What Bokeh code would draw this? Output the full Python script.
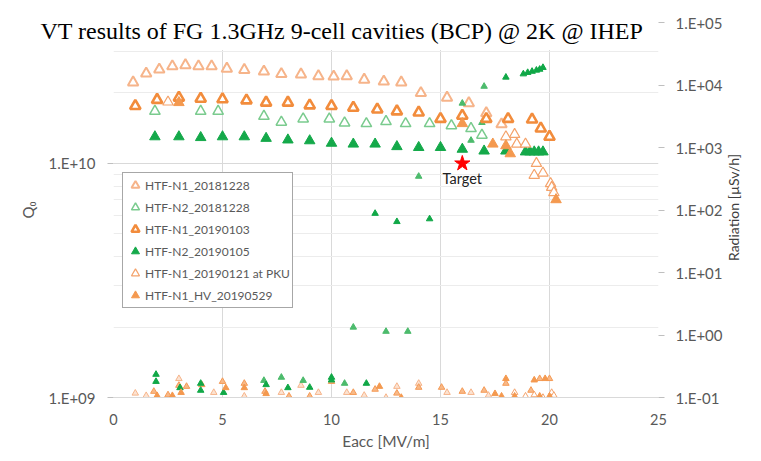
from bokeh.plotting import figure
from bokeh.models import (Range1d, LogScale, LogAxis, FixedTicker, CustomJSTickFormatter,
                          Legend, LegendItem, Label, BoxAnnotation, Title)
from bokeh.embed import file_html
from bokeh.resources import INLINE

# ---------------- data ----------------
names = ["HTF-N1_20181228", "HTF-N2_20181228", "HTF-N1_20190103",
         "HTF-N2_20190105", "HTF-N1_20190121 at PKU", "HTF-N1_HV_20190529"]

x_ticks = [0, 5, 10, 15, 20, 25]
q_ticks = [1e9, 1e10]
q_minor = [2e9, 3e9, 4e9, 5e9, 6e9, 7e9, 8e9, 9e9, 2e10, 3e10]
rad_ticks = [1e-1, 1e0, 1e1, 1e2, 1e3, 1e4, 1e5]

s1_eacc = [0.9, 1.5, 2.1, 2.7, 3.3, 3.9, 4.5, 5.2, 6.0, 6.9, 7.7, 8.6, 9.4, 10.1, 10.7, 11.5,
           12.4, 13.2, 14.1, 15.3, 16.3, 17.1, 17.8]
s1_q0 = [2.22e10, 2.42e10, 2.52e10, 2.60e10, 2.63e10, 2.60e10, 2.60e10, 2.54e10, 2.51e10,
         2.47e10, 2.41e10, 2.40e10, 2.36e10, 2.35e10, 2.36e10, 2.28e10, 2.24e10, 2.22e10,
         2.00e10, 1.91e10, 1.81e10, 1.64e10, 1.47e10]
s1_rad_eacc = [1.0, 1.5, 3.0, 4.6, 6.0, 7.7, 8.6, 9.4, 10.7, 11.5, 12.5, 13.0, 14.0, 15.3, 16.4, 17.2]
s1_rad = [0.117, 0.107, 0.20, 0.12, 0.105, 0.12, 0.156, 0.12, 0.12, 0.108, 0.10, 0.15, 0.168,
          0.12, 0.12, 0.108]

s2_eacc = [1.9, 4.0, 4.8, 6.9, 7.7, 8.7, 9.9, 10.6, 11.6, 12.5, 13.4, 14.5, 15.5, 16.4, 16.9]
s2_q0 = [1.67e10, 1.67e10, 1.67e10, 1.59e10, 1.50e10, 1.55e10, 1.55e10, 1.49e10, 1.48e10,
         1.51e10, 1.48e10, 1.48e10, 1.45e10, 1.41e10, 1.32e10]
s2_rad_eacc = [6.9, 7.7, 8.7, 10.6, 11.0, 12.5, 13.5, 14.0, 16.0, 16.4, 16.9, 17.0]
s2_rad = [0.187, 0.21, 0.187, 0.168, 1.33, 1.14, 1.14, 345, 5100, 1300, 2500, 9500]

s3_eacc = [1.0, 2.0, 3.0, 4.0, 5.0, 6.1, 7.0, 8.0, 9.0, 10.0, 11.0, 12.1, 13.0, 14.0, 15.0,
           16.0, 17.1, 18.1, 19.2, 19.6, 20.0]
s3_q0 = [1.76e10, 1.87e10, 1.91e10, 1.89e10, 1.88e10, 1.86e10, 1.82e10, 1.82e10, 1.77e10,
         1.76e10, 1.73e10, 1.70e10, 1.67e10, 1.65e10, 1.55e10, 1.60e10, 1.55e10, 1.55e10,
         1.54e10, 1.41e10, 1.30e10]
s3_rad_eacc = [1.85, 2.5, 3.0, 3.35, 4.05, 5.0, 6.0, 6.95, 8.05, 9.0, 10.0, 11.0, 12.0, 13.0,
               14.0, 15.05, 16.0, 17.0, 18.0, 19.15, 19.55, 20.0]
s3_rad = [0.125, 0.11, 0.156, 0.15, 0.16, 0.18, 0.168, 0.125, 0.105, 0.105, 0.18, 0.12, 0.135,
          0.117, 0.145, 0.145, 0.125, 0.13, 0.168, 0.13, 0.2, 0.2]

s4_eacc = [1.9, 3.0, 4.0, 5.0, 6.0, 7.0, 8.0, 9.0, 10.0, 11.0, 12.0, 13.0, 14.0, 15.0, 16.0,
           17.0, 18.0, 18.9, 19.1, 19.3, 19.5, 19.7]
s4_q0 = [1.30e10, 1.30e10, 1.29e10, 1.30e10, 1.30e10, 1.28e10, 1.26e10, 1.25e10, 1.22e10,
         1.21e10, 1.21e10, 1.18e10, 1.17e10, 1.17e10, 1.15e10, 1.13e10, 1.13e10, 1.12e10,
         1.12e10, 1.12e10, 1.12e10, 1.12e10]
s4_rad_eacc = [1.95, 1.95, 3.05, 4.0, 4.0, 5.05, 7.0, 8.0, 9.0, 10.0, 10.0, 11.6, 12.0, 13.0,
               14.5, 18.0, 18.8, 19.0, 19.2, 19.4, 19.55, 19.7]
s4_rad = [0.234, 0.18, 0.143, 0.168, 0.13, 0.12, 0.16, 0.143, 0.145, 0.21, 0.19, 0.168, 88, 65,
          72, 13300, 15000, 15800, 16500, 17200, 17800, 19000]

s5_eacc = [2.5, 18.0, 18.4, 18.5, 18.9, 19.3, 19.4, 19.7, 20.05, 20.1, 20.2]
s5_q0 = [1.83e10, 1.30e10, 1.33e10, 1.21e10, 1.21e10, 0.89e10, 1.0e10, 0.91e10, 0.82e10,
         0.79e10, 0.75e10]
s5_rad_eacc = [18.4, 18.9, 19.3, 19.7, 20.1, 20.2]
s5_rad = [0.12, 0.105, 0.11, 0.10, 0.12, 0.108]

s6_eacc = [3.0, 16.0, 17.4, 18.0, 18.2, 20.3]
s6_q0 = [1.82e10, 1.48e10, 1.21e10, 1.19e10, 1.10e10, 0.70e10]
s6_rad_eacc = [2.0, 2.7, 3.1, 5.15, 6.0, 7.0, 12.2, 13.2, 17.5, 17.8, 18.0, 18.4, 19.3, 19.55,
               19.8, 20.0]
s6_rad = [0.107, 0.107, 0.12, 0.143, 0.143, 0.115, 0.15, 0.10, 0.115, 0.105, 0.2, 0.105, 0.19,
          0.105, 0.2, 0.105]

target_eacc = [16.0]
target_q0 = [1.0e10]

title_text = "VT results of FG 1.3GHz 9-cell cavities (BCP) @ 2K @ IHEP"
rad_label = "Radiation [\u00b5Sv/h]"

# ---------------- figure ----------------
GRAY = "#595959"
FONT = "Lato"

p = figure(width=761, height=461, x_range=Range1d(0, 25), y_range=Range1d(1e9, 4e10),
           y_axis_type="log", output_backend="svg", toolbar_location=None,
           min_border_left=113, min_border_right=103, min_border_top=22, min_border_bottom=64,
           background_fill_color="white", border_fill_color="white")
p.outline_line_color = None

p.extra_y_ranges = {"rad": Range1d(1e-1, 1e5)}
p.extra_y_scales = {"rad": LogScale()}

# x axis
p.xaxis.ticker = FixedTicker(ticks=x_ticks)
p.xaxis.axis_label = "Eacc [MV/m]"
p.xaxis.axis_line_color = "#d9d9d9"
p.xaxis.major_tick_line_color = None
p.xaxis.minor_tick_line_color = None
p.xaxis.major_label_standoff = 10
p.xaxis.axis_label_standoff = 4
p.xaxis.major_label_text_font = FONT
p.xaxis.major_label_text_font_size = "14.5px"
p.xaxis.major_label_text_color = GRAY
p.xaxis.axis_label_text_font = FONT
p.xaxis.axis_label_text_font_size = "15.5px"
p.xaxis.axis_label_text_font_style = "normal"
p.xaxis.axis_label_text_color = GRAY

fmt_code = """
const e = Math.round(Math.log10(tick));
const a = Math.abs(e);
return "1.E" + (e < 0 ? "-" : "+") + (a < 10 ? "0" : "") + a;
"""

# left axis
p.yaxis.ticker = FixedTicker(ticks=q_ticks, minor_ticks=q_minor)
p.yaxis.formatter = CustomJSTickFormatter(code=fmt_code)
p.yaxis.axis_label = "Q\u2080"
p.yaxis.axis_line_color = None
p.yaxis.major_tick_line_color = "#bfbfbf"
p.yaxis.major_tick_in = 0
p.yaxis.major_tick_out = 6
p.yaxis.minor_tick_line_color = None
p.yaxis.major_label_standoff = 12
p.yaxis.axis_label_standoff = 8
p.yaxis.major_label_text_font = FONT
p.yaxis.major_label_text_font_size = "15px"
p.yaxis.major_label_text_color = GRAY
p.yaxis.axis_label_text_font = FONT
p.yaxis.axis_label_text_font_size = "15px"
p.yaxis.axis_label_text_font_style = "normal"
p.yaxis.axis_label_text_color = GRAY

# right axis (title reads bottom-to-top, as in the original)
rax = LogAxis(y_range_name="rad", ticker=FixedTicker(ticks=rad_ticks),
              formatter=CustomJSTickFormatter(code=fmt_code))
rax.axis_line_color = None
rax.major_tick_line_color = "#bfbfbf"
rax.major_tick_in = 0
rax.major_tick_out = 6
rax.minor_tick_line_color = None
rax.major_label_standoff = 11
rax.axis_label_standoff = 8
rax.major_label_text_font = FONT
rax.major_label_text_font_size = "15px"
rax.major_label_text_color = GRAY
rax.axis_label_text_font = FONT
rax.axis_label_text_font_size = "14px"
rax.axis_label_text_font_style = "normal"
rax.axis_label_text_color = "#404040"
props = rax.properties()
if "axis_label_orientation" in props and "axis_label_align" in props:
    rax.axis_label_orientation = 1.5707963267948966
    rax.axis_label_align = "start"
    rax.axis_label = "\u2003" * 13 + rad_label
else:
    rax.axis_label = rad_label
p.add_layout(rax, "right")

# grids
p.xgrid.grid_line_color = "#d9d9d9"
p.ygrid.grid_line_color = "#d9d9d9"
p.ygrid.minor_grid_line_color = "#ececec"

# white band over the top of the plot area (behind the title), drawn above the grid
p.add_layout(BoxAnnotation(bottom=3.05e10, fill_color="white", fill_alpha=1.0,
                           line_color=None, level="underlay"))

# ---------------- series ----------------
styles = [
    dict(line_color="#F6B48A", fill_color="white", line_width=2.0),
    dict(line_color="#7ACB8E", fill_color="white", line_width=1.5),
    dict(line_color="#F28C3C", fill_color="white", line_width=2.6),
    dict(line_color="#14A94A", fill_color="#14A94A", line_width=1.0),
    dict(line_color="#F4A26A", fill_color="white", line_width=1.2),
    dict(line_color="#F4994F", fill_color="#F4994F", line_width=1.0),
]
rad_styles = [
    dict(line_color="#F6B48A", fill_color="#FCE3D2"),
    dict(line_color="#4CBB6C", fill_color="#4CBB6C"),
    dict(line_color="#F59A55", fill_color="#F8B988"),
    dict(line_color="#10A847", fill_color="#10A847"),
    dict(line_color="#F4A26A", fill_color="white"),
    dict(line_color="#F4994F", fill_color="#F4994F"),
]
q_data = [(s1_eacc, s1_q0), (s2_eacc, s2_q0), (s3_eacc, s3_q0),
          (s4_eacc, s4_q0), (s5_eacc, s5_q0), (s6_eacc, s6_q0)]
r_data = [(s1_rad_eacc, s1_rad), (s2_rad_eacc, s2_rad), (s3_rad_eacc, s3_rad),
          (s4_rad_eacc, s4_rad), (s5_rad_eacc, s5_rad), (s6_rad_eacc, s6_rad)]

q_renderers = []
for (xs, ys), (rx, ry), st, rst in zip(q_data, r_data, styles, rad_styles):
    p.scatter(rx, ry, marker="triangle", size=6.5, line_width=1.0, y_range_name="rad", **rst)
    r = p.scatter(xs, ys, marker="triangle", size=10.5, **st)
    q_renderers.append(r)

p.scatter(target_eacc, target_q0, marker="star", size=16, fill_color="#FF0000",
          line_color="#FF0000")
p.add_layout(Label(x=target_eacc[0], y=8.65e9, text="Target", text_font=FONT,
                   text_font_size="14.5px", text_color="#222222", text_align="center",
                   text_baseline="middle"))

legend = Legend(items=[LegendItem(label=n, renderers=[r]) for n, r in zip(names, q_renderers)],
                location=(9, 89), margin=0, padding=2, spacing=2,
                glyph_width=20, glyph_height=20, label_height=20, label_standoff=0,
                label_text_font=FONT, label_text_font_size="12px", label_text_color=GRAY,
                border_line_color="#505050", border_line_width=1.5,
                background_fill_color="white", background_fill_alpha=1.0)
p.add_layout(legend)

# title: lives in the "above" panel; an empty first line plus a negative standoff lets the
# visible line sit over the top of the plot area, as in the original
title = Title(text="\n" + title_text, text_font="Liberation Serif", text_font_size="24px",
              text_font_style="normal", text_color="black", align="left", offset=-73,
              standoff=-42, vertical_align="bottom")
p.add_layout(title, "above")

open("out.html", "w").write(file_html(p, INLINE))
